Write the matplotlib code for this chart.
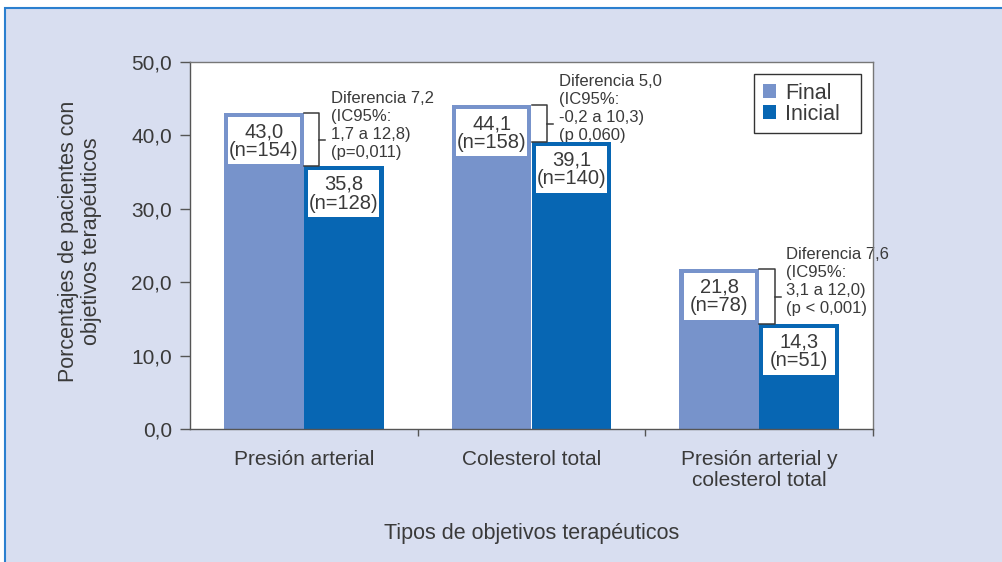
import numpy as np
import matplotlib
matplotlib.use('Agg')
import matplotlib.pyplot as plt
from matplotlib.patches import Rectangle

plt.rcParams['font.family'] = ['Liberation Sans', 'DejaVu Sans']
plt.rcParams['text.color'] = '#3a3a3a'

# Data
categories = ['Presión arterial', 'Colesterol total', 'Presión arterial y\ncolesterol total']
final_vals = [43.0, 44.1, 21.8]
inicial_vals = [35.8, 39.1, 14.3]
final_n = [154, 158, 78]
inicial_n = [128, 140, 51]
diff_texts = ['Diferencia 7,2\n(IC95%:\n1,7 a 12,8)\n(p=0,011)',
              'Diferencia 5,0\n(IC95%:\n-0,2 a 10,3)\n(p 0,060)',
              'Diferencia 7,6\n(IC95%:\n3,1 a 12,0)\n(p < 0,001)']
ytick_vals = [0, 10, 20, 30, 40, 50]
ytick_labels = ['0,0', '10,0', '20,0', '30,0', '40,0', '50,0']

c_final = '#7793CB'
c_inicial = '#0766B3'
c_line = '#3a3a3a'

fig = plt.figure(figsize=(10.03, 5.62), dpi=100)
fig.patch.set_facecolor('white')
# lavender panel with blue frame
fig.patches.append(Rectangle((5 / 1003, -0.05), 1.1, 1 - 8 / 562 + 0.05,
                             transform=fig.transFigure, fc='#D8DEF0',
                             ec='#2B7FCF', lw=1.5, zorder=-10))

ax = fig.add_axes([190 / 1003, 1 - 429 / 562, 683 / 1003, 367 / 562])
ax.set_facecolor('white')

x = np.arange(len(categories))
w = 0.35
ax.bar(x - w / 2, final_vals, w, color=c_final, label='Final', zorder=2)
ax.bar(x + w / 2, inicial_vals, w, color=c_inicial, label='Inicial', zorder=2)

def fmt(v):
    return f'{v:.1f}'.replace('.', ',')

# white label box inside each bar, just below its top
box_w = w - 0.036
box_h = 6.4
box_gap = 0.55

def bar_label(xc, val, n):
    y0 = val - box_gap - box_h
    ax.add_patch(Rectangle((xc - box_w / 2, y0), box_w, box_h, fc='white',
                           ec='none', zorder=3))
    ax.text(xc, y0 + box_h / 2, f'{fmt(val)}\n(n={n})', ha='center', va='center',
            fontsize=14.5, linespacing=0.97, zorder=4)

for i in range(len(categories)):
    bar_label(x[i] - w / 2, final_vals[i], final_n[i])
    bar_label(x[i] + w / 2, inicial_vals[i], inicial_n[i])

    # bracket between the two bars
    f, s = final_vals[i], inicial_vals[i]
    mid = (f + s) / 2
    bx = x[i] + 0.068
    ax.plot([x[i], bx, bx, x[i]], [f, f, s, s], color=c_line, lw=1.1,
            zorder=3, clip_on=False)
    ax.plot([bx, bx + 0.026], [mid, mid], color=c_line, lw=1.1, zorder=3, clip_on=False)
    ax.text(bx + 0.052, mid + 2.0, diff_texts[i], ha='left', va='center',
            fontsize=12, linespacing=1.25, clip_on=False, zorder=1)

ax.set_xlim(-0.5, 2.5)
ax.set_ylim(0, 50)
ax.set_yticks(ytick_vals)
ax.set_yticklabels(ytick_labels, fontsize=15)
ax.tick_params(axis='y', direction='out', length=7, width=1, color='#555555',
               pad=6, labelcolor='#3a3a3a')

ax.set_xticks([0.5, 1.5, 2.5])
ax.set_xticklabels([])
ax.set_xticks(x, minor=True)
ax.set_xticklabels(categories, minor=True, fontsize=15, linespacing=1.15)
ax.tick_params(axis='x', which='major', direction='out', length=5, width=1, color='#555555')
ax.tick_params(axis='x', which='minor', length=0, pad=15, labelcolor='#3a3a3a')

for side in ['left', 'bottom']:
    ax.spines[side].set_color('#555555')
for side in ['top', 'right']:
    ax.spines[side].set_color('#777777')
for sp in ax.spines.values():
    sp.set_linewidth(1.0)

ax.set_xlabel('Tipos de objetivos terapéuticos', fontsize=15.5, labelpad=24, color='#3a3a3a')
fig.text(80 / 1003, 1 - 241 / 562, 'Porcentajes de pacientes con\nobjetivos terapéuticos',
         rotation=90, ha='center', va='center', fontsize=15.5, linespacing=1.12)

leg = ax.legend(loc='upper left', bbox_to_anchor=(0.8258, 0.5, 0.1566, 0.467),
                mode='expand', borderaxespad=0, fontsize=15.5, frameon=True,
                fancybox=False, framealpha=1, edgecolor='#333333',
                handlelength=0.6, handleheight=0.6, handletextpad=0.45,
                labelspacing=0.0, borderpad=0.4)
leg.get_frame().set_linewidth(1.0)

fig.savefig('out.png', dpi=100)
